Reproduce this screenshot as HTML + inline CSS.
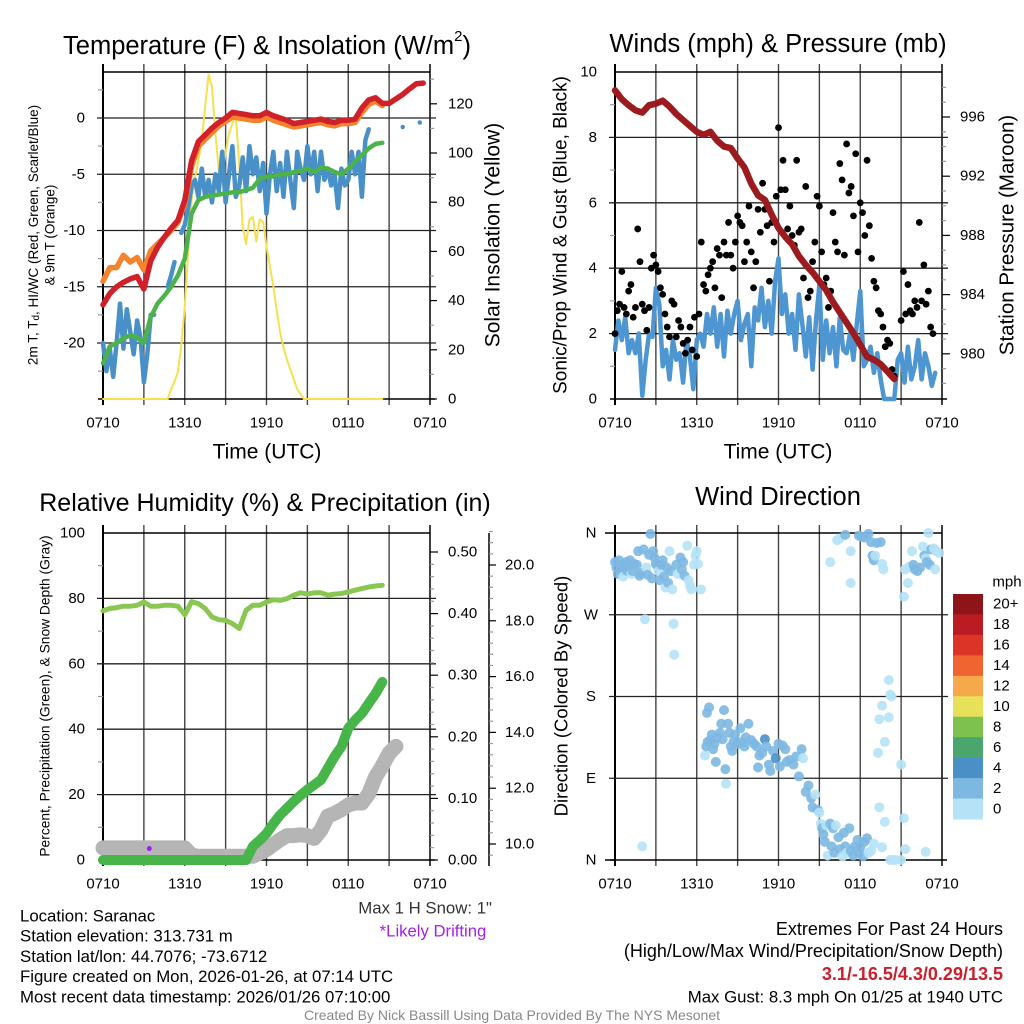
<!DOCTYPE html>
<html><head><meta charset="utf-8"><style>
html,body{margin:0;padding:0;background:#fff;}
svg{display:block;font-family:"Liberation Sans",sans-serif;}
</style></head><body>
<svg id="c" width="1024" height="1024" viewBox="0 0 1024 1024" xmlns="http://www.w3.org/2000/svg"></svg>
<script>
// ---------- DATA ----------
const xTickLabels = ["0710","1310","1910","0110","0710"];
// Panel 1 (0.5 h steps)
const temp2m = [-16.6,-15.6,-15,-14.6,-14.3,-14.1,-15.2,-12.7,-11.5,-10.6,-9.8,-9.1,-7.3,-3.8,-2.1,-1.5,-0.9,-0.4,0.0,0.5,0.4,0.3,0.2,0.2,0.5,0.2,0.0,-0.2,-0.5,-0.4,-0.3,-0.2,-0.1,-0.3,-0.4,-0.2,-0.2,-0.1,0.9,1.6,1.8,1.3,1.3,1.7,2.1,2.6,3.05,3.1];
const temp9m = [-14.5,-13.3,-13.3,-12.2,-12.8,-12.4,-13.5,-11.8,-11.2,-10.6,-10,-9.3,-7.6,-4.3,-2.5,-1.9,-1.3,-0.7,-0.3,0.1,0.0,-0.1,-0.2,-0.2,0.1,-0.2,-0.4,-0.6,-0.8,-0.7,-0.6,-0.5,-0.4,-0.6,-0.7,-0.5,-0.5,-0.4,0.5,1.2,1.5,1.1];
const dewpt = [-21.8,-20.3,-20,-19.6,-19.3,-19.5,-20,-17.7,-16.5,-15.8,-15,-14,-12.5,-8.5,-7.3,-7,-6.9,-6.8,-6.7,-6.6,-6.6,-6.4,-6.2,-5.4,-5.2,-5.2,-5,-5,-4.8,-4.7,-4.5,-4.8,-4.4,-4.5,-4.8,-5,-4.5,-3.9,-3.3,-2.7,-2.3,-2.2];
// 0.25 h steps
const windChill = [-20,-22.5,-20.5,-23,-20,-16.5,-20.5,-17,-19,-21,-18,-19.5,-23.5,-21,-17.5,-17.5,null,null,null,-15,-14,-12.8,null,-10.2,-9.5,-8,-6,-5.5,-7,-4.5,-7,-5.5,-7.5,-5,-6.5,-3,-7.5,-5,-2.5,-7,-6,-3.5,-6.5,-2.5,-5,-3.5,-6.5,-4,-8.5,-5,-3,-6.5,-4,-7,-3,-5.5,-8,-3,-4.5,-5.5,-2.5,-5,-3,-6.5,-3,-5.5,-4.5,-6,-5,-8,-4.5,-6,-5.5,-3,-5,-3,-7,-2,-1,null,null,null,null,null,null,null,null,null,-0.8,null,null,null,null,-0.4];
const solar = [0,0,0,0,0,0,0,0,0,0,0,0,0,0,0,0,0,0,0,0,4,7,11,22,38,60,81,90,97,105,119,132,127,108,93,91,100,108,112,115,95,70,63,73,74,64,73,72,62,54,46,36,27,21,16,12,8,4,2,0,0,0,0,0,0,0,0,0,0,0,0,0,0,0,0,0,0,0,0,0,0,0,0];
// Panel 2
const wind = [1.5,2.4,1.8,2.5,1.4,1.8,1.4,2.0,0.1,1.2,2.0,1.9,3.4,2.9,1.0,1.5,0.6,1.8,1.2,1.4,0.5,1.8,1.3,0.3,1.8,2.0,1.6,2.6,2.0,2.8,1.6,2.6,1.3,2.7,2.0,2.6,3.0,1.8,2.3,2.6,1.0,2.8,2.4,3.4,2.2,3.0,2.0,3.6,4.3,2.6,3.2,2.0,2.6,1.5,3.2,2.3,1.3,2.5,0.9,2.4,3.5,1.2,2.4,1.4,2.2,1.0,2.5,1.5,1.4,2.0,1.2,2.3,3.3,1.0,1.2,1.6,0.8,1.4,0.6,0.0,0.0,0.0,0.0,1.2,1.4,0.5,1.6,0.6,1.0,1.8,0.6,1.4,1.0,0.4,0.8];
// gusts every 10 minutes
const gust = [2.0,2.7,2.9,3.9,2.8,2.6, 3.3,3.5,2.5,2.8,5.2,4.2, 2.9,2.7,2.1,2.8,4.0,4.4, 4.1,3.9,3.4,3.2,2.6,2.2, 1.9,3.0,2.9,1.9,2.4,2.2, 1.7,1.4,1.8,2.2,1.5,2.5, 1.3,2.6,4.8,3.5,3.3,3.8, 4.0,4.2,3.4,4.6,4.4,3.1, 4.8,4.4,5.4,4.4,4.0,4.8, 5.6,5.4,5.3,4.2,4.8,5.9, 4.5,3.4,4.2,5.8,5.1,6.6, 5.8,5.3,3.6,5.4,4.8,6.2, 8.3,6.4,7.3,6.4,5.2,5.9, 5.0,4.7,7.3,5.1,5.2,3.7, 6.5,3.1,3.3,4.2,4.8,6.2, 5.9,4.5,3.5,3.7,2.8,3.3, 5.7,4.8,4.5,7.2,6.7,4.4, 7.8,6.3,6.5,5.6,7.5,4.5, 6.0,5.7,5.0,7.3,5.3,4.3, 3.6,3.4,2.7,2.6,2.2,1.6, 1.8,1.7,0.9,0.7,null,null, 2.4,3.9,2.6,3.5,2.7,2.6, 3.0,2.8,5.4,3.0,4.1,2.9, 3.3,2.2,2.0];
const pressure = [997.8,997.2,996.8,996.45,996.3,996.8,996.9,997.1,996.7,996.2,995.8,995.4,995.0,994.8,995.0,994.4,994.0,993.9,993.2,992.6,991.5,990.7,990.4,989.4,988.5,987.9,987.4,986.6,986.0,985.5,984.9,984.3,983.5,982.8,982.1,981.4,980.6,979.8,979.6,979.3,978.8,978.3];
// Panel 3 (0.5 h)
const rh = [76.2,76.9,77.2,77.6,77.6,77.9,78.9,77.6,77.6,77.9,77.9,77.6,75.0,79.0,78.4,76.9,74.3,73.5,73.3,72.3,70.8,76.4,77.9,77.9,78.9,79.6,79.4,79.9,81,81.7,81.3,81.7,81.7,81,81.3,81.5,82,82.5,83,83.5,83.8,84];
const precip = [0,0,0,0,0,0,0,0,0,0,0,0,0,0,0,0,0,0,0,0,0,0,0.022,0.032,0.043,0.059,0.073,0.084,0.095,0.105,0.114,0.122,0.13,0.149,0.168,0.184,0.214,0.227,0.238,0.254,0.27,0.289];
const snow = [9.86,9.86,9.86,9.86,9.86,9.86,9.86,9.86,9.86,9.86,9.86,9.86,9.86,9.6,9.56,9.56,9.56,9.56,9.56,9.56,9.56,9.56,9.56,9.68,9.8,9.98,10.15,10.3,10.3,10.33,10.3,10.2,10.5,11.0,11.1,11.23,11.4,11.47,11.47,11.8,12.4,12.8,13.25,13.5];
const driftT = [3.4];
const driftPct = [3.5];
// Panel 4 wind direction
const dirT = [0,0.1,0.2,0.3,0.4,0.5,0.6,0.7,0.8,0.9,1.0,1.1,1.2,1.3,1.4,1.6,1.7,1.8,1.9,2.0,2.1,2.2,2.3,2.4,2.5,2.6,2.7,2.8,2.9,3.0,3.1,3.2,3.3,3.4,3.5,3.6,3.7,3.8,3.9,4.0,4.1,4.2,4.3,4.35,4.5,4.6,4.8,4.9,5.0,5.1,5.3,5.4,5.5,5.6,5.8,5.9,6.0,6.1,6.3,
6.6,6.7,6.75,6.8,6.9,7.0,7.1,7.2,7.3,7.4,7.5,7.7,7.8,7.9,8.0,8.1,8.15,8.3,8.4,8.5,8.6,8.7,8.8,9.0,9.2,9.3,9.5,9.6,9.8,10.0,10.2,10.4,10.5,10.6,10.8,11.0,11.1,11.3,11.4,11.6,11.8,12.0,12.1,12.3,12.5,12.6,12.8,13.1,13.3,13.5,13.7,13.8,14.0,14.2,14.4,14.5,14.7,14.9,
15.0,15.1,15.2,15.3,15.4,15.5,15.6,15.8,15.9,16.0,16.1,16.2,16.4,16.5,16.7,16.8,16.9,17.0,17.2,17.3,17.5,17.6,17.8,17.9,18.0,18.2,18.3,18.5,18.6,18.8,19.0,19.4,19.6,19.8,20.2,20.4,20.6,21.0,21.2,21.3,22.8,
19.3,19.4,19.6,19.8,20.1,20.2,20.3,20.1,21.0,
15.8,16.3,16.5,16.9,17.3,17.3,17.9,18.1,18.3,18.6,18.8,18.9,19.0,19.1,19.2,19.5,19.6,19.7,
21.2,21.3,21.5,21.6,21.8,21.9,22.0,22.2,22.4,22.6,22.7,22.8,22.9,23.0,23.1,23.2,23.4,23.5,23.6,23.8];
const dirDeg = [328,322,315,330,318,325,312,322,328,318,322,330,315,318,326,325,340,313,316,15,342,265,322,314,336,359,310,340,333,326,324,318,308,325,330,312,300,322,305,340,318,298,260,226,325,315,333,320,328,313,346,308,302,298,325,335,340,326,298,
115,125,162,130,168,132,138,122,128,108,135,140,150,133,165,100,84,150,140,125,120,130,138,128,145,130,125,135,150,132,128,125,102,115,118,133,125,105,98,120,112,128,103,126,122,108,110,105,114,92,122,112,75,82,68,58,72,55,
52,40,35,28,20,38,5,40,15,35,8,38,25,12,4,30,15,8,35,10,5,15,22,8,14,4,20,24,8,10,18,58,14,42,0,0,0,0,46,12,9,
118,155,170,130,198,182,180,157,105,
328,352,354,358,340,305,357,356,355,359,350,335,330,335,349,350,326,320,
290,320,305,323,340,325,320,318,322,345,335,332,328,360,325,342,343,320,340,338];
const dirSpd = [2,3,3,3,3,3,1,3,3,3,2,3,1,3,3,3,2,3,3,1,3,1,1,3,3,3,3,3,3,3,3,1,3,3,3,3,1,3,3,1,3,1,1,1,3,1,3,3,3,3,1,1,1,1,1,1,1,1,1,
1,3,3,3,3,3,3,3,3,3,3,3,3,3,3,3,1,3,3,3,3,3,3,3,3,3,3,3,3,3,3,3,3,3,3,5,3,3,3,3,5,3,3,3,3,3,3,3,3,3,3,1,3,3,3,3,1,3,
1,1,3,3,3,1,1,3,3,3,3,1,3,3,1,3,3,1,3,3,3,3,3,3,3,3,3,3,1,1,1,1,1,1,1,1,1,1,1,1,1,
1,1,1,1,1,1,1,1,1,
1,1,1,3,1,1,3,3,3,3,3,3,3,1,3,3,1,1,
1,1,1,1,1,3,3,3,3,1,3,1,3,1,3,3,1,1,1,1];
const cbLabels = ["20+","18","16","14","12","10","8","6","4","2","0"];
const cbColors = ["#8f1418","#bb1c24","#dc3427","#ef6430","#f6a94a","#e7e15a","#7dc24e","#4aa66d","#4a90c7","#7db8e2","#b5e2f7"];

// ---------- DRAW ----------
const svg = document.getElementById('c');
const NS = "http://www.w3.org/2000/svg";
function mk(tag, attrs, name, parent){
  const e = document.createElementNS(NS, tag);
  for (const k in attrs) e.setAttribute(k, attrs[k]);
  
  
  (parent||svg).appendChild(e);
  return e;
}
function txt(x,y,s,size,name,opt){
  opt = opt||{};
  const t = mk('text',{x:x,y:y,'font-size':size,fill:opt.fill||'#000','text-anchor':opt.anchor||'middle','dominant-baseline':'central','font-weight':opt.weight||'normal'},name);
  if (opt.rot) t.setAttribute('transform','rotate('+opt.rot+' '+x+' '+y+')');
  t.textContent = s;
  return t;
}
function xs(p,t){ return p.x0 + t/24*(p.x1-p.x0); }
function line(pts, color, w, name){
  let segs=[], cur=[];
  pts.forEach(p=>{ if(p[1]==null){ if(cur.length) segs.push(cur); cur=[]; } else cur.push(p); });
  if(cur.length) segs.push(cur);
  segs.forEach(s=>{
    if (s.length===1){ mk('circle',{cx:s[0][0],cy:s[0][1],r:w/2,fill:color},name); }
    else mk('polyline',{points:s.map(p=>p[0].toFixed(1)+','+p[1].toFixed(1)).join(' '),fill:'none',stroke:color,'stroke-width':w,'stroke-linejoin':'round','stroke-linecap':'round'},name);
  });
}
function series(p, arr, step, yf){ return arr.map((v,i)=>[xs(p,i*step), v==null?null:yf(v)]); }
function frame(p, name){
  for (let h=3; h<24; h+=3){
    mk('line',{x1:xs(p,h),x2:xs(p,h),y1:p.y0-8,y2:p.y1+6,stroke:'#444','stroke-width':1.4},name+'-vgrid');
  }
  mk('line',{x1:p.x0,x2:p.x0,y1:p.y0-8,y2:p.y1+6,stroke:'#000','stroke-width':2},name+'-left-edge');
  mk('line',{x1:p.x1,x2:p.x1,y1:p.y0-8,y2:p.y1+6,stroke:'#000','stroke-width':1.5},name+'-right-edge');
  mk('line',{x1:p.x0,x2:p.x1,y1:p.y0,y2:p.y0,stroke:'#000','stroke-width':1.5},name+'-top-edge');
  mk('line',{x1:p.x0-5,x2:p.x1+5,y1:p.y1,y2:p.y1,stroke:'#000','stroke-width':1.5},name+'-bottom-edge');
  xTickLabels.forEach((l,i)=>txt(xs(p,i*6), p.y1+24, l, 15, name+'-x-tick-label'));
}
function hgrid(p, y, name){ mk('line',{x1:p.x0-6,x2:p.x1+6,y1:y,y2:y,stroke:'#222','stroke-width':1.3},name); }
function tick(x,y,len,name,minor){ mk('line',{x1:x,x2:x+len,y1:y,y2:y,stroke:minor?'#999':'#000','stroke-width':1.2},name); }

// ===== Panel 1 =====
const P1={x0:103,x1:430,y0:72,y1:399};
const yT = v=>118 - v*11.25;
const yS = v=>399 - v*2.46;
frame(P1,'temp-panel');
[0,-5,-10,-15,-20].forEach(v=>{ hgrid(P1,yT(v),'temp-hgrid'); txt(85,yT(v),String(v),15,'temp-y-tick-label',{anchor:'end'}); });
for (let v=2.5; v>-25; v-=5) tick(P1.x0-5,yT(v),5,'temp-minor-tick',true);
for (let v=0; v<=130; v+=10){ tick(P1.x1, yS(v), v%20===0?7:4, 'solar-tick', v%20!==0); }
[0,20,40,60,80,100,120].forEach(v=>txt(448,yS(v),String(v),15,'solar-y-tick-label',{anchor:'start'}));
line(series(P1,solar,0.25,yS),'#f7e04f',2,'solar-line');
line(series(P1,windChill,0.25,yT),'#4a90c8',4.5,'windchill-line');
line(series(P1,dewpt,0.5,yT),'#4cb24a',4.5,'dewpoint-line');
line(series(P1,temp9m,0.5,yT),'#f5832c',5.5,'temp-9m-line');
line(series(P1,temp2m,0.5,yT),'#d0202a',5.5,'temp-2m-line');
const t1 = txt(267,46,'',25.5,'temp-panel-title');
t1.innerHTML = 'Temperature (F) &amp; Insolation (W/m<tspan font-size="15" dy="-10">2</tspan><tspan dy="10">)</tspan>';
txt(267,452,'Time (UTC)',21,'temp-x-axis-title');
txt(493,235,'Solar Insolation (Yellow)',21,'solar-axis-title',{rot:-90});
const ya = txt(33,235,'',13.5,'temp-y-axis-title',{rot:-90});
ya.innerHTML = '2m T, T<tspan font-size="10" dy="3">d</tspan><tspan dy="-3">, HI/WC (Red, Green, Scarlet/Blue)</tspan>';
txt(50,235,'& 9m T (Orange)',13.5,'temp-y-axis-title-2',{rot:-90});

// ===== Panel 2 =====
const P2={x0:615,x1:942,y0:72,y1:399};
const yW = v=>399 - v*32.7;
const yP = v=>117 - (v-996)*14.8;
frame(P2,'wind-panel');
[2,4,6,8].forEach(v=>hgrid(P2,yW(v),'wind-hgrid'));
[0,2,4,6,8,10].forEach(v=>txt(597,yW(v),String(v),15,'wind-y-tick-label',{anchor:'end'}));
for (let v=1; v<10; v+=2) tick(P2.x0-5,yW(v),5,'wind-minor-tick',true);
for (let v=978; v<=998; v++){ tick(P2.x1, yP(v), v%4===0?8:4, 'pressure-tick', v%4!==0); }
[980,984,988,992,996].forEach(v=>txt(960,yP(v),String(v),15,'pressure-y-tick-label',{anchor:'start'}));
line(series(P2,wind,0.25,yW),'#4e96d1',4.5,'wind-speed-line');
gust.forEach((g,i)=>{ if(g!=null){
  mk('circle',{cx:xs(P2,i/6),cy:yW(g),r:3.4,fill:'#000'},'gust-point');
}});
line(series(P2,pressure,0.5,yP),'#9b1b1e',6.5,'pressure-line');
txt(778,44,'Winds (mph) & Pressure (mb)',25.5,'wind-panel-title');
txt(778,452,'Time (UTC)',21,'wind-x-axis-title');
txt(561,235,'Sonic/Prop Wind & Gust (Blue, Black)',19,'wind-y-axis-title',{rot:-90});
txt(1007,235,'Station Pressure (Maroon)',20.5,'pressure-axis-title',{rot:-90});

// ===== Panel 3 =====
const P3={x0:103,x1:430,y0:533,y1:860};
const yR = v=>860 - v*3.27;
const yPr = v=>860 - v*616;
const ySn = v=>844 - (v-10)*27.9;
frame(P3,'rh-panel');
[20,40,60,80].forEach(v=>hgrid(P3,yR(v),'rh-hgrid'));
[0,20,40,60,80,100].forEach(v=>txt(85,yR(v),String(v),15,'rh-y-tick-label',{anchor:'end'}));
for (let v=10; v<100; v+=20) tick(P3.x0-5,yR(v),5,'rh-minor-tick',true);
for (let v=0; v<=0.52; v+=0.02){ const mj=Math.abs(v*10-Math.round(v*10))<1e-6; tick(P3.x1, yPr(v), mj?8:4,'precip-tick',!mj); }
[0,0.1,0.2,0.3,0.4,0.5].forEach(v=>txt(448,yPr(v),v.toFixed(2),15,'precip-y-tick-label',{anchor:'start'}));
mk('line',{x1:489,x2:489,y1:533,y2:866,stroke:'#000','stroke-width':1.5},'snow-axis-line');
for (let v=9.6; v<=21.2; v+=0.4){ const mj=Math.abs(v/2-Math.round(v/2))<1e-6; tick(489, ySn(v), mj?7:4,'snow-tick',!mj); }
[10,12,14,16,18,20].forEach(v=>txt(505,ySn(v),v.toFixed(1),15,'snow-y-tick-label',{anchor:'start'}));
line(series(P3,snow,0.5,ySn),'#b5b5b5',15,'snow-depth-line');
line(series(P3,precip,0.5,yPr),'#47b54a',10,'precip-line');
line(series(P3,rh,0.5,yR),'#8ac752',5,'rh-line');
driftT.forEach((t,i)=>mk('circle',{cx:xs(P3,t),cy:yR(driftPct[i]),r:2.5,fill:'#a020f0'},'drift-marker'));
txt(265,503,'Relative Humidity (%) & Precipitation (in)',25,'rh-panel-title');
txt(45,696,'Percent, Precipitation (Green), & Snow Depth (Gray)',13.8,'rh-y-axis-title',{rot:-90});

// ===== Panel 4 =====
const P4={x0:615,x1:942,y0:533,y1:860};
const yD = v=>860 - v/360*327;
frame(P4,'dir-panel');
[90,180,270].forEach(v=>hgrid(P4,yD(v),'dir-hgrid'));
mk('line',{x1:P4.x0-10,x2:P4.x0,y1:P4.y0,y2:P4.y0,stroke:'#000','stroke-width':1.5},'dir-tick');
mk('line',{x1:P4.x0-10,x2:P4.x0,y1:P4.y1,y2:P4.y1,stroke:'#000','stroke-width':1.5},'dir-tick');
[['N',360],['W',270],['S',180],['E',90],['N',0]].forEach(d=>txt(591,yD(d[1]),d[0],15,'dir-y-tick-label'));
const spdColor = s=>cbColors[10-Math.min(10,Math.floor(s/2))];
dirT.forEach((t,i)=>{
  mk('circle',{cx:xs(P4,t),cy:yD(dirDeg[i]),r:5,fill:spdColor(dirSpd[i]),'fill-opacity':0.9},'wind-dir-point');
});
txt(778,497,'Wind Direction',25.5,'dir-panel-title');
txt(561,696,'Direction (Colored By Speed)',18.5,'dir-y-axis-title',{rot:-90});
const cbY0=594, cbH=225/11;
txt(1007,582,'mph',15,'colorbar-title');
cbColors.forEach((c,i)=>{
  mk('rect',{x:953,y:cbY0+i*cbH,width:30,height:cbH+0.5,fill:c},'colorbar-swatch');
  txt(993,cbY0+i*cbH+cbH/2,cbLabels[i],15,'colorbar-label',{anchor:'start'});
});

// ===== Footer =====
const info=["Location: Saranac","Station elevation: 313.731 m","Station lat/lon: 44.7076; -73.6712","Figure created on Mon, 2026-01-26, at 07:14 UTC","Most recent data timestamp: 2026/01/26 07:10:00"];
info.forEach((s,i)=>txt(20,916+i*20.2,s,16.8,'station-info-line',{anchor:'start'}));
txt(492,908,'Max 1 H Snow: 1"',16.8,'max-snow-note',{anchor:'end',fill:'#333'});
txt(433,931,'*Likely Drifting',16.7,'drifting-note',{fill:'#a020f0'});
txt(1003,929,'Extremes For Past 24 Hours',18,'extremes-title',{anchor:'end'});
txt(1003,951,'(High/Low/Max Wind/Precipitation/Snow Depth)',18,'extremes-subtitle',{anchor:'end'});
txt(1003,974,'3.1/-16.5/4.3/0.29/13.5',18,'extremes-values',{anchor:'end',fill:'#c9202c',weight:'bold'});
txt(1003,997,'Max Gust: 8.3 mph On 01/25 at 1940 UTC',16.8,'max-gust-note',{anchor:'end'});
txt(512,1015,'Created By Nick Bassill Using Data Provided By The NYS Mesonet',14,'credit-line',{fill:'#888'});
</script>
</body></html>
